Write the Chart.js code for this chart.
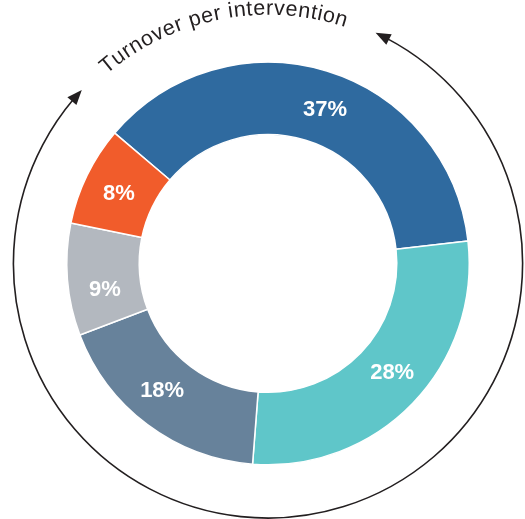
<!DOCTYPE html>
<html>
<head>
<meta charset="utf-8">
<script src="https://cdn.jsdelivr.net/npm/chart.js@4"></script>
<style>
    html, body { margin: 0; padding: 0; background: #fff; }
    #wrap { width: 525px; height: 519px; position: relative; }
</style>
</head>
<body>
<div id="wrap"><canvas id="chartTurnover"></canvas></div>
<script>
var segments = ['Intervention A', 'Intervention B', 'Intervention C', 'Intervention D', 'Intervention E'];
var shares = [37, 28, 18, 9, 8];
var sliceColors = ['#2f6a9f', '#5fc6c9', '#67829b', '#b3b8bf', '#f15c2b'];
var ringTitle = 'Turnover per intervention';

var DEG = Math.PI / 180;

// arrow ring + curved title + percentage labels
var ringDecor = {
    id: 'ringDecor',
    afterDatasetsDraw: function (chart, args, opts) {
        var meta = chart.getDatasetMeta(0);
        var ctx = chart.ctx;
        var first = meta.data[0];
        var cx = first.x, cy = first.y, R = first.outerRadius;
        var nudge = opts.labelNudge || [];

        ctx.save();
        ctx.fillStyle = '#ffffff';
        ctx.font = 'bold 22px "Liberation Sans", Arial, sans-serif';
        ctx.textAlign = 'center';
        ctx.textBaseline = 'middle';
        meta.data.forEach(function (el, i) {
            var mid = (el.startAngle + el.endAngle) / 2 + (nudge[i] || 0) * DEG;
            var rr = (el.innerRadius + el.outerRadius) / 2;
            ctx.fillText(shares[i] + '%', cx + rr * Math.cos(mid), cy + rr * Math.sin(mid) + 1);
        });
        ctx.restore();

        // outer arc with arrow heads (angles are clockwise from top)
        var r = R * 1.265;
        var headLen = 15, headHalf = 6;
        var endRight = 25, endLeft = 313;
        var dHead = headLen / r / DEG;

        function pt(theta, rad) {
            var a = (theta - 90) * DEG;
            return { x: cx + rad * Math.cos(a), y: cy + rad * Math.sin(a) };
        }
        function head(tipTheta, baseTheta) {
            var t = pt(tipTheta, r), b = pt(baseTheta, r);
            var dx = t.x - b.x, dy = t.y - b.y;
            var len = Math.sqrt(dx * dx + dy * dy);
            var px = -dy / len * headHalf, py = dx / len * headHalf;
            ctx.beginPath();
            ctx.moveTo(t.x, t.y);
            ctx.lineTo(b.x + px, b.y + py);
            ctx.lineTo(b.x - px, b.y - py);
            ctx.closePath();
            ctx.fill();
        }

        ctx.save();
        ctx.strokeStyle = '#231f20';
        ctx.fillStyle = '#231f20';
        ctx.lineWidth = 1.6;
        ctx.beginPath();
        ctx.arc(cx, cy, r, (endRight + dHead * 0.8 - 90) * DEG, (endLeft - dHead * 0.8 - 90) * DEG);
        ctx.stroke();
        head(endRight, endRight + dHead);
        head(endLeft, endLeft - dHead);
        ctx.restore();

        // curved title
        var rt = R * 1.236;
        var startT = -40.5, endT = 18.1;
        ctx.save();
        ctx.fillStyle = '#231f20';
        ctx.font = '21.5px "Liberation Sans", Arial, sans-serif';
        ctx.textAlign = 'center';
        ctx.textBaseline = 'alphabetic';
        var chars = ringTitle.split('');
        var widths = chars.map(function (c) { return ctx.measureText(c).width; });
        var total = widths.reduce(function (s, w) { return s + w; }, 0);
        var span = rt * (endT - startT) * DEG;
        var extra = (span - total) / (chars.length - 1);
        var acc = 0;
        chars.forEach(function (c, i) {
            var theta = startT * DEG + (acc + widths[i] / 2) / rt;
            ctx.save();
            ctx.translate(cx, cy);
            ctx.rotate(theta);
            ctx.fillText(c, 0, -rt);
            ctx.restore();
            acc += widths[i] + extra;
        });
        ctx.restore();
    }
};

new Chart(document.getElementById('chartTurnover'), {
    type: 'doughnut',
    data: {
        labels: segments,
        datasets: [{
            data: shares,
            backgroundColor: sliceColors,
            borderColor: '#ffffff',
            borderWidth: 1.5,
            hoverOffset: 0
        }]
    },
    options: {
        responsive: true,
        maintainAspectRatio: false,
        animation: false,
        cutout: '64%',
        rotation: -49.6,
        layout: { padding: { left: 66, right: 55, top: 61, bottom: 53 } },
        plugins: {
            legend: { display: false },
            tooltip: { enabled: false },
            ringDecor: { labelNudge: [3.2, -2.8, 3.1, -4.4, -0.6] }
        }
    },
    plugins: [ringDecor]
});
</script>
</body>
</html>
